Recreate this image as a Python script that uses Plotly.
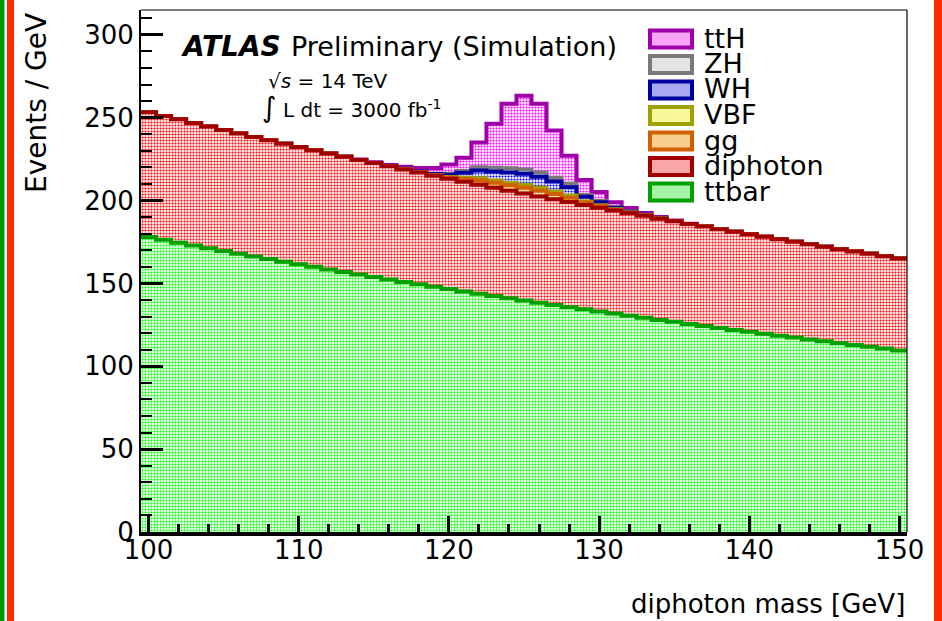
import numpy as np
import plotly.graph_objects as go

# ---------------- data ----------------
bin_centers = list(range(100, 151))  # 1 GeV bins centred on integers

ttbar = [178.0, 176.3, 174.6, 172.9, 171.2, 169.6, 167.9, 166.3, 164.7, 163.1,
         161.5, 160.0, 158.4, 156.9, 155.4, 153.9, 152.4, 150.9, 149.5, 148.0,
         146.6, 145.2, 143.8, 142.4, 141.0, 139.7, 138.3, 137.0, 135.7, 134.4,
         133.1, 131.8, 130.5, 129.3, 128.0, 126.8, 125.5, 124.3, 123.1, 121.9,
         120.8, 119.6, 118.4, 117.3, 116.2, 115.1, 113.9, 112.8, 111.8, 110.7,
         109.6]

diphoton = [75.3, 74.8, 74.4, 73.9, 73.5, 73.0, 72.6, 72.1, 71.7, 71.2,
            70.8, 70.4, 70.0, 69.5, 69.1, 68.7, 68.3, 67.9, 67.4, 67.0,
            66.6, 66.2, 65.8, 65.4, 65.0, 64.6, 64.2, 63.8, 63.4, 63.0,
            62.6, 62.2, 61.8, 61.5, 61.1, 60.7, 60.3, 60.0, 59.6, 59.3,
            58.9, 58.5, 58.2, 57.8, 57.5, 57.1, 56.8, 56.4, 56.1, 55.7,
            55.4]

gg = [0]*17 + [0.1, 0.2, 0.3, 0.7, 1.6, 2.5, 2.9, 3.2, 3.5, 3.5,
               3.1, 2.6, 1.4, 1.0, 0.5, 0.3, 0.2, 0.1, 0.05] + [0]*15

vbf = [0]*17 + [0.05, 0.1, 0.15, 0.35, 0.8, 1.3, 1.4, 1.6, 1.7, 1.7,
                1.6, 1.3, 0.7, 0.5, 0.25, 0.15, 0.1, 0.05, 0.02] + [0]*15

wh = [0]*17 + [0.2, 0.3, 0.55, 1.4, 3.0, 4.8, 5.5, 6.2, 6.7, 6.7,
               6.0, 5.1, 2.8, 1.8, 0.9, 0.55, 0.3, 0.2, 0.1] + [0]*15

zh = [0]*17 + [0.05, 0.1, 0.2, 0.55, 1.1, 1.9, 2.2, 2.5, 2.6, 2.6,
               2.3, 2.0, 1.1, 0.7, 0.35, 0.2, 0.1, 0.05, 0.03] + [0]*15

tth = [0]*13 + [0.2, 0.3, 0.5, 0.8, 1.2, 2.0, 3.5, 5.5, 8.0, 15.0,
                26.5, 39.0, 44.5, 41.5, 28.5, 17.0, 9.0, 5.5, 3.0, 2.0,
                1.0, 0.6, 0.3, 0.2] + [0]*14

series_names = ["ttbar", "diphoton", "gg", "VBF", "WH", "ZH", "ttH"]
series_values = [ttbar, diphoton, gg, vbf, wh, zh, tth]

x_title = "diphoton mass [GeV]"
y_title = "Events / GeV"

# ---------------- styles ----------------
line_colors = {"ttH": "#a000a8", "ZH": "#7a7a7a", "WH": "#0000a0", "VBF": "#a0a000",
               "gg": "#d06000", "diphoton": "#a00000", "ttbar": "#00a000"}
fg_colors = {"ttH": "#ff00ff", "ZH": "#b0b0b0", "WH": "#0000ff", "VBF": "#ffff00",
             "gg": "#ff9900", "diphoton": "#ff0000", "ttbar": "#00ff00"}
bg_colors = {"ttH": "#fff0ff", "ZH": "#ffffff", "WH": "#f4f4ff", "VBF": "#ffffea",
             "gg": "#fff6e8", "diphoton": "#fff2f2", "ttbar": "#f2fff2"}
avg_colors = {"ttH": "#f7a6f7", "ZH": "#e4e4e4", "WH": "#a9a9f3", "VBF": "#f7f79c",
              "gg": "#f8cf8f", "diphoton": "#f8a6a6", "ttbar": "#a6f2a6"}

FONT = "DejaVu Sans"
W_FIG, H_FIG = 942, 621
L, R, T, B = 141, 907, 10, 532
PW, PH = R - L, B - T


def px_x(px):
    return (px - L) / PW


def px_y(py):
    return (B - py) / PH


centers = np.array(bin_centers, dtype=float)
edges = np.append(centers - 0.5, centers[-1] + 0.5)

fig = go.Figure()

# cumulative stack, drawn from the top of the stack down (ROOT THStack order)
cum = np.zeros(len(centers))
cums = []
for name, vals in zip(series_names, series_values):
    cum = cum + np.array(vals, dtype=float)
    cums.append((name, cum.copy()))

for name, c in reversed(cums):
    yv = np.append(c, c[-1])
    fig.add_trace(go.Scatter(
        x=edges, y=yv, mode="lines", line=dict(shape="hv", color=line_colors[name], width=4),
        fill="tozeroy",
        fillpattern=dict(shape=".", fgcolor=fg_colors[name], bgcolor=bg_colors[name],
                         size=3, solidity=0.4, fillmode="replace"),
        name=name, showlegend=False, hoverinfo="skip"))

fig.update_layout(
    width=W_FIG, height=H_FIG,
    margin=dict(l=L, r=W_FIG - R, t=T, b=H_FIG - B),
    paper_bgcolor="white", plot_bgcolor="white",
    font=dict(family=FONT, color="black"),
    xaxis=dict(range=[99.5, 150.5], showgrid=False, zeroline=False,
               tickmode="array", tickvals=[100, 110, 120, 130, 140, 150],
               ticks="inside", ticklen=16, tickwidth=3, tickcolor="black",
               showline=True, linecolor="black", linewidth=3.5,
               tickfont=dict(family=FONT, size=26), ticklabelstandoff=-8,
               minor=dict(dtick=2, tick0=100, ticks="inside", ticklen=8, tickwidth=3,
                          tickcolor="black", showgrid=False)),
    yaxis=dict(range=[0, 315], showgrid=False, zeroline=False,
               tickmode="array", tickvals=[0, 50, 100, 150, 200, 250, 300],
               ticks="inside", ticklen=22, tickwidth=2.5, tickcolor="black",
               showline=True, linecolor="black", linewidth=2,
               tickfont=dict(family=FONT, size=26), ticklabelstandoff=0,
               minor=dict(dtick=10, tick0=0, ticks="inside", ticklen=11, tickwidth=1.5,
                          tickcolor="black", showgrid=False)),
)

shapes = [
    # top and right frame lines
    dict(type="line", xref="paper", yref="paper", x0=0, x1=1, y0=1, y1=1,
         line=dict(color="black", width=1.2)),
    dict(type="line", xref="paper", yref="paper", x0=1, x1=1, y0=0, y1=1,
         line=dict(color="black", width=1.2)),
    # coloured page borders
    dict(type="rect", xref="paper", yref="paper", x0=px_x(0), x1=px_x(4.5),
         y0=px_y(H_FIG), y1=px_y(0), fillcolor="#00960a", line=dict(width=0), layer="above"),
    dict(type="rect", xref="paper", yref="paper", x0=px_x(7), x1=px_x(14),
         y0=px_y(H_FIG), y1=px_y(0), fillcolor="#ff2a00", line=dict(width=0), layer="above"),
    dict(type="rect", xref="paper", yref="paper", x0=px_x(934), x1=px_x(942),
         y0=px_y(H_FIG), y1=px_y(0), fillcolor="#ff2a00", line=dict(width=0), layer="above"),
]

annotations = []
legend_order = ["ttH", "ZH", "WH", "VBF", "gg", "diphoton", "ttbar"]
for i, name in enumerate(legend_order):
    cy = 39 + 25.5 * i
    shapes.append(dict(type="rect", xref="paper", yref="paper",
                       x0=px_x(650), x1=px_x(692), y0=px_y(cy + 8.5), y1=px_y(cy - 8.5),
                       fillcolor=avg_colors[name], line=dict(color=line_colors[name], width=4)))
    annotations.append(dict(text=name, xref="paper", yref="paper", x=px_x(702), y=px_y(cy - 1),
                            xanchor="left", yanchor="middle", showarrow=False,
                            font=dict(family=FONT, size=27, color="black")))

annotations += [
    dict(text="<b><i>ATLAS</i></b>", xref="paper", yref="paper", x=px_x(179), y=px_y(46),
         xanchor="left", yanchor="middle", showarrow=False, font=dict(family=FONT, size=28)),
    dict(text="Preliminary (Simulation)", xref="paper", yref="paper", x=px_x(289), y=px_y(46),
         xanchor="left", yanchor="middle", showarrow=False, font=dict(family=FONT, size=27)),
    dict(text="√<i>s</i> = 14 TeV", xref="paper", yref="paper", x=px_x(266), y=px_y(81),
         xanchor="left", yanchor="middle", showarrow=False, font=dict(family=FONT, size=20)),
    dict(text="<span style=\"font-size:28px\">∫</span> L dt = 3000 fb<sup>-1</sup>",
         xref="paper", yref="paper", x=px_x(260), y=px_y(107),
         xanchor="left", yanchor="middle", showarrow=False, font=dict(family=FONT, size=20)),
    dict(text=x_title, xref="paper", yref="paper", x=1, y=px_y(604),
         xanchor="right", yanchor="middle", showarrow=False, font=dict(family=FONT, size=26)),
    dict(text=y_title, xref="paper", yref="paper", x=px_x(36), y=px_y(11),
         xanchor="center", yanchor="top", textangle=-90, showarrow=False,
         font=dict(family=FONT, size=28)),
]

fig.update_layout(shapes=shapes, annotations=annotations)
fig.write_html("out.html")
